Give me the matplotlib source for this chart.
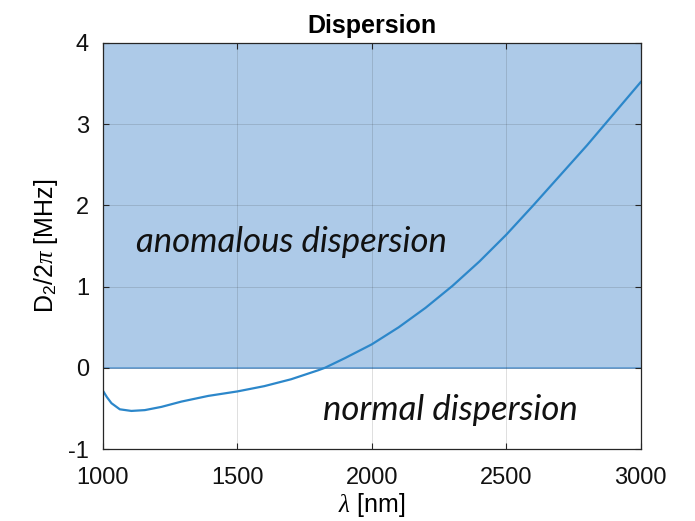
import matplotlib.pyplot as plt

# =============================
# DATA
# =============================

WAVELENGTH_NM = [1000, 1015, 1032, 1063, 1106, 1156, 1218, 1292, 1392, 1500,
                 1600, 1700, 1800, 1825, 1900, 2000, 2100, 2200, 2300, 2400,
                 2500, 2600, 2700, 2800, 2900, 3000]
D2_MHZ = [-0.28, -0.36, -0.435, -0.51, -0.53, -0.52, -0.48, -0.415, -0.345, -0.29,
          -0.225, -0.14, -0.03, 0.0, 0.12, 0.29, 0.50, 0.74, 1.01, 1.31,
          1.64, 2.00, 2.37, 2.74, 3.13, 3.52]

X_TICKS = [1000, 1500, 2000, 2500, 3000]
Y_TICKS = [-1, 0, 1, 2, 3, 4]

LINE_COLOR = "#2c87ca"
FILL_COLOR = "#adcae8"
EDGE_COLOR = "#5d9ad2"

# =============================
# PLOT
# =============================

plt.rcParams["font.family"] = ["Liberation Sans", "DejaVu Sans"]
plt.rcParams["axes.unicode_minus"] = False
plt.rcParams["mathtext.fontset"] = "custom"
plt.rcParams["mathtext.rm"] = "Liberation Sans"
plt.rcParams["mathtext.it"] = "Liberation Serif:italic"

fig = plt.figure(figsize=(6.95, 5.21), dpi=100)
ax = fig.add_axes([0.148, 0.138, 0.774, 0.7795])

# anomalous region (D2 > 0)
ax.fill_between([X_TICKS[0], X_TICKS[-1]], 0, Y_TICKS[-1],
                facecolor=FILL_COLOR, edgecolor="none", zorder=1)
ax.plot([X_TICKS[0], X_TICKS[-1]], [0, 0], color=EDGE_COLOR, lw=1.2, zorder=2)

ax.plot(WAVELENGTH_NM, D2_MHZ, color=LINE_COLOR, lw=1.6, zorder=4,
        solid_joinstyle="round")

ax.text(1125, 1.55, "anomalous dispersion", fontsize=25, style="italic",
        family="Lato", va="center", ha="left", color="#111111", zorder=5)
ax.text(1818, -0.52, "normal dispersion", fontsize=25, style="italic",
        family="Lato", va="center", ha="left", color="#111111", zorder=5)

ax.set_xlim(X_TICKS[0], X_TICKS[-1])
ax.set_ylim(Y_TICKS[0], Y_TICKS[-1])
ax.set_xticks(X_TICKS)
ax.set_yticks(Y_TICKS)
ax.grid(True, color="#262626", alpha=0.15, lw=0.7, zorder=3)
ax.set_axisbelow(False)

ax.tick_params(direction="in", length=4, width=0.8, top=True, right=True,
               labelsize=17, colors="#262626", labelcolor="#111111")
ax.tick_params(axis="x", pad=13)
ax.tick_params(axis="y", pad=10)
for spine in ax.spines.values():
    spine.set_color("#262626")
    spine.set_linewidth(0.9)
    spine.set_zorder(6)

ax.set_title("Dispersion", fontsize=18, fontweight="bold", pad=7)
ax.set_xlabel(r"$\lambda$ [nm]", fontsize=18, labelpad=1)
ax.set_ylabel(r"D$_2$/2$\pi$ [MHz]", fontsize=18, labelpad=6)

plt.savefig("out.png", dpi=100)
plt.close()
